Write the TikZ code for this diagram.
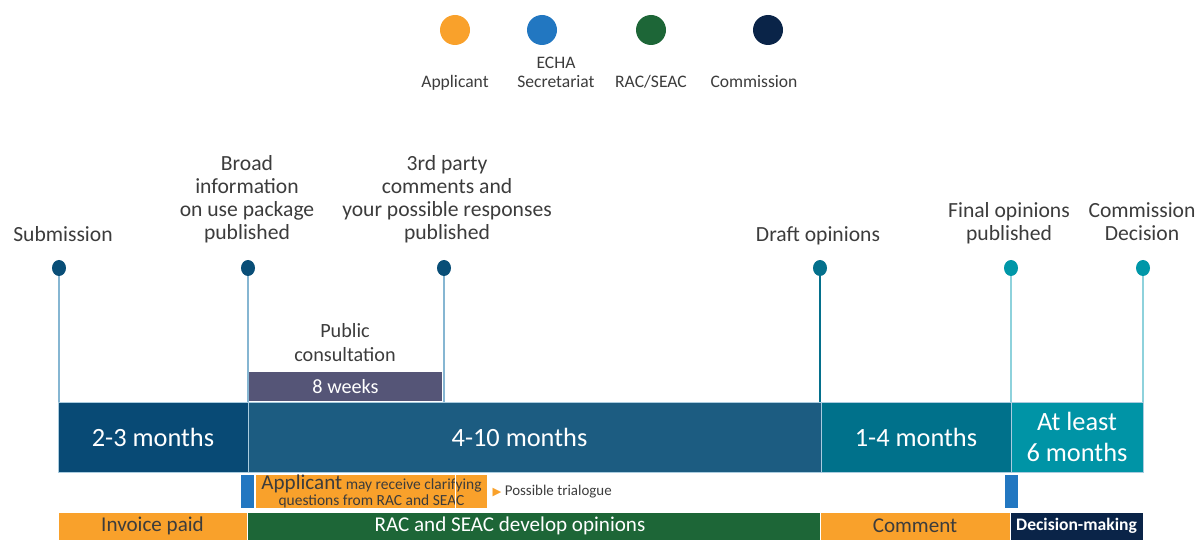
\documentclass[tikz,border=0pt]{standalone}
\usepackage{fontspec}
\setmainfont{Carlito}
\newfontfamily\symfont{DejaVu Sans}
\usetikzlibrary{shapes.geometric,positioning}

\definecolor{applicant}{HTML}{F9A12B}
\definecolor{echa}{HTML}{2277C1}
\definecolor{racseac}{HTML}{1D6637}
\definecolor{commission}{HTML}{0A2448}
\definecolor{pindark}{HTML}{094E77}
\definecolor{pindraft}{HTML}{04708C}
\definecolor{pinteal}{HTML}{0097A8}
\definecolor{segone}{HTML}{084A75}
\definecolor{segtwo}{HTML}{1C5C81}
\definecolor{segthree}{HTML}{00718B}
\definecolor{segfour}{HTML}{0094A6}
\definecolor{weeks}{HTML}{555577}
\definecolor{stemblue}{HTML}{86B6D2}
\definecolor{stemteal}{HTML}{8ED2DC}
\definecolor{textgray}{HTML}{3C3C3C}

\tikzset{
  legdot/.style={circle, minimum size=0.6cm, inner sep=0pt},
  leg/.style={anchor=south, align=center, inner sep=0pt, text depth=0pt, text=textgray,
    font=\fontsize{10}{10.8}\selectfont},
  pin/.style={ellipse, minimum width=0.28cm, minimum height=0.32cm, inner sep=0pt},
  lbl/.style={anchor=south, align=center, inner sep=0pt, text depth=0pt, text=textgray,
    font=\fontsize{12.3}{13.2}\selectfont},
  stem/.style={line width=0.9pt},
  bar/.style={rectangle, minimum height=1.4cm, inner sep=0pt, draw=stemblue!70!white,
    line width=0.5pt, text=white, align=center, font=\fontsize{15}{17.6}\selectfont},
  tag/.style={rectangle, minimum height=0.66cm, inner sep=0pt},
  row/.style={rectangle, minimum height=0.56cm, inner sep=0pt, draw=white, line width=0.4pt,
    font=\fontsize{12}{12}\selectfont}
}

\begin{document}
\begin{tikzpicture}[x=0.02cm,y=-0.02cm]
  \useasboundingbox (0,0) rectangle (1200,540);

  % legend
  \node[legdot, fill=applicant]  (lApp) at (455,30) {};
  \node[legdot, fill=echa]       (lEcha) at (542,30) {};
  \node[legdot, fill=racseac]    (lRac) at (651,30) {};
  \node[legdot, fill=commission] (lCom) at (768,30) {};
  \node[leg] (tApp)  at (455,88) {Applicant};
  \node[leg] (tEcha) at (556,88) {ECHA\\Secretariat};
  \node[leg] (tRac)  at (651,88) {RAC/SEAC};
  \node[leg] (tCom)  at (754,88) {Commission};

  % milestones
  \node[pin, fill=pindark]  (sub) at (59,268) {};
  \node[pin, fill=pindark]  (bro) at (248,268) {};
  \node[pin, fill=pindark]  (thr) at (444,268) {};
  \node[pin, fill=pindraft] (dra) at (820,268) {};
  \node[pin, fill=pinteal]  (fin) at (1011,268) {};
  \node[pin, fill=pinteal]  (cde) at (1143,268) {};

  \node[lbl] (subL) at (63,242) {Submission};
  \node[lbl] (broL) at (247,240) {Broad\\information\\on use package\\published};
  \node[lbl] (thrL) at (447,240) {3rd party\\comments and\\your possible responses\\published};
  \node[lbl] (draL) at (818,242) {Draft opinions};
  \node[lbl] (finL) at (1009,241) {Final opinions\\published};
  \node[lbl] (cdeL) at (1142,241) {Commission\\Decision};

  % duration bar
  \node[bar, fill=segone,   minimum width=3.8cm]  (s1) at (153,437) {2-3 months};
  \node[bar, fill=segtwo,   minimum width=11.46cm] (s2) at (534.5,437) {4-10 months\hspace*{0.6cm}};
  \node[bar, fill=segthree, minimum width=3.8cm]  (s3) at (916,437) {1-4 months};
  \node[bar, fill=segfour,  minimum width=2.64cm] (s4) at (1077,437) {At least\\6 months};

  \draw[stem, stemblue] (sub.south) -- (sub |- s1.north);
  \draw[stem, stemblue] (bro.south) -- (bro |- s2.north);
  \draw[stem, stemblue] (thr.south) -- (thr |- s2.north);
  \draw[stem, pindraft] (dra.south) -- (dra |- s3.north);
  \draw[stem, stemteal] (fin.south) -- (fin |- s4.north);
  \draw[stem, stemteal] (cde.south) -- (cde |- s4.north);

  % public consultation
  \node[rectangle, fill=weeks, minimum width=3.86cm, minimum height=0.58cm, inner sep=0pt,
    text=white, font=\fontsize{11.5}{11.5}\selectfont] (wk) at (345.5,386.5) {8 weeks};
  \node[lbl, font=\fontsize{11.5}{13.6}\selectfont] (pc) at (345,362) {Public\\consultation};

  % clarifying questions
  \node[tag, fill=echa, minimum width=0.26cm] (e1) at (247.5,491.5) {};
  \node[tag, fill=applicant, minimum width=4.62cm, align=center, text=textgray,
    font=\fontsize{8.8}{9.5}\selectfont] (q) at (371.5,491.5)
    {{\fontsize{12}{9.5}\selectfont Applicant} may receive clarifying\\questions from RAC and SEAC};
  \draw[white, line width=0.6pt] ([xshift=4cm]q.north west) -- ([xshift=4cm]q.south west);
  \node[right=0.1cm of q, inner sep=0pt, text=textgray, font=\fontsize{8.5}{8.5}\selectfont] (tri)
    {{\symfont\fontsize{6.5}{6.5}\selectfont\textcolor{applicant}{▶}} Possible trialogue};
  \node[tag, fill=echa, minimum width=0.26cm] (e2) at (1011.5,491.5) {};

  % responsibilities
  \node[row, fill=applicant, text=textgray, minimum width=3.78cm] (inv) at (152.5,526) {Invoice paid};
  \node[row, fill=racseac, text=white, minimum width=11.46cm] (dev) at (533.5,526)
    {RAC and SEAC develop opinions\hspace*{0.94cm}};
  \node[row, fill=applicant, text=textgray, minimum width=3.8cm] (com) at (915,526) {Comment};
  \node[row, fill=commission, text=white, minimum width=2.66cm,
    font=\bfseries\fontsize{10}{10}\selectfont] (dec) at (1076.5,526) {Decision-making};
\end{tikzpicture}
\end{document}
